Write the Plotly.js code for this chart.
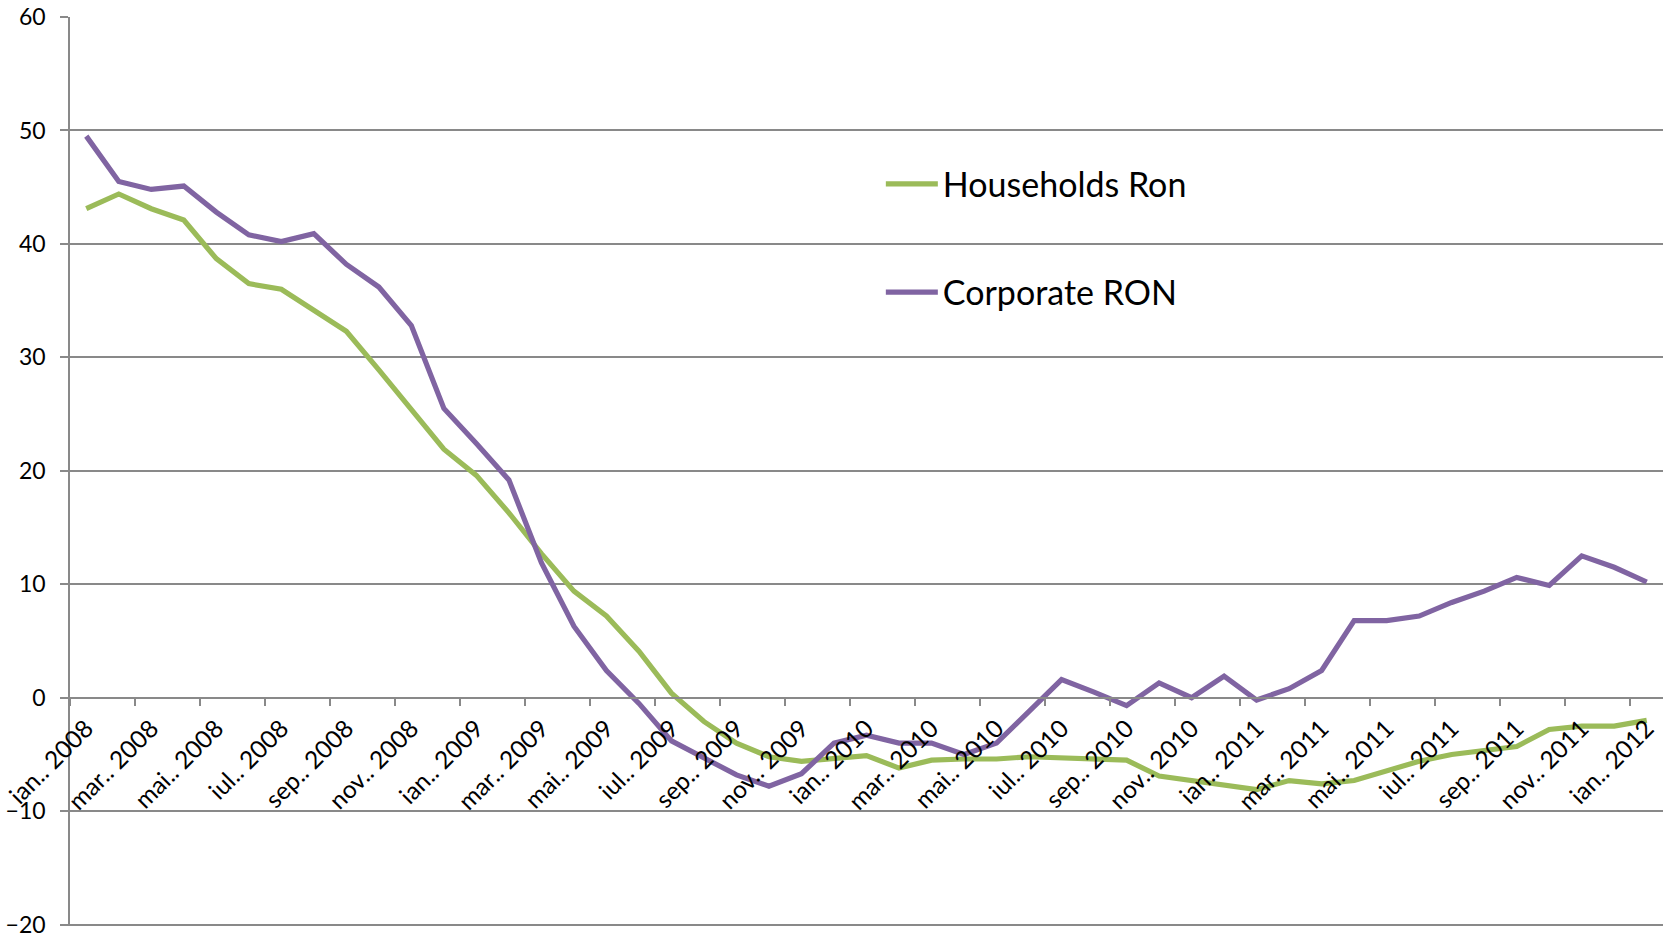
<!DOCTYPE html>
<html>
<head>
<meta charset="utf-8">
<script src="https://cdn.plot.ly/plotly-3.0.1.min.js"></script>
<style>
  html, body { margin: 0; padding: 0; background: #ffffff; }
  #chart { width: 1669px; height: 937px; }
</style>
</head>
<body>
<div id="chart"></div>
<script>
// Monthly categories, ian 2008 .. ian 2012
const monthNames = ['ian', 'feb', 'mar', 'apr', 'mai', 'iun', 'iul', 'aug', 'sep', 'oct', 'nov', 'dec'];
const startYear = 2008;
const monthCount = 49;
const months = [];
for (let k = 0; k < monthCount; k++) {
  months.push(monthNames[k % 12] + '.. ' + (startYear + Math.floor(k / 12)));
}

// Annual growth rates, %
const householdsRon = [
  43.1, 44.4, 43.1, 42.1, 38.7, 36.5, 36.0, 34.2, 32.3, 28.9,
  25.4, 21.9, 19.6, 16.3, 12.7, 9.4, 7.2, 4.1, 0.4, -2.1,
  -4.0, -5.2, -5.6, -5.3, -5.1, -6.2, -5.5, -5.4, -5.4, -5.2,
  -5.3, -5.3, -5.5, -6.9, -7.3, -7.6, -8.1, -7.3, -7.6, -7.3,
  -6.5, -5.6, -5.0, -4.6, -4.3, -2.8, -2.5, -2.5, -2.0
];
const corporateRon = [
  49.5, 45.5, 44.8, 45.1, 42.8, 40.8, 40.2, 40.9, 38.2, 36.2,
  32.8, 25.5, 22.4, 19.2, 11.9, 6.3, 2.4, -0.5, -3.8, -5.3,
  -6.8, -7.8, -6.7, -4.0, -3.3, -4.0, -4.0, -5.0, -4.0, -1.2,
  1.6, 0.5, -0.7, 1.3, 0.0, 1.9, -0.2, 0.8, 2.4, 6.8,
  6.8, 7.2, 8.4, 9.4, 10.6, 9.9, 12.5, 11.5, 10.2
];
const seriesNames = ['Households Ron', 'Corporate RON'];
const seriesColors = ['#9BBB59', '#8064A2'];
const yTicks = [-20, -10, 0, 10, 20, 30, 40, 50, 60];

const yMin = -20, yMax = 60;
// a hair of headroom below -20 so its gridline is kept
const yLow = yMin - 0.12;
const gridGray = '#898989';
// category axis sits on the zero line
const zeroFrac = (0 - yLow) / (yMax - yLow);

const traces = [
  {
    type: 'scatter', mode: 'lines', name: seriesNames[0],
    x: months, y: householdsRon,
    line: { color: seriesColors[0], width: 5.2 },
    legend: 'legend', hoverinfo: 'x+y+name'
  },
  {
    type: 'scatter', mode: 'lines', name: seriesNames[1],
    x: months, y: corporateRon,
    line: { color: seriesColors[1], width: 5.2 },
    legend: 'legend2', hoverinfo: 'x+y+name'
  }
];

const legendBase = {
  xanchor: 'left', yanchor: 'middle',
  bgcolor: 'rgba(0,0,0,0)', borderwidth: 0,
  font: { family: 'Lato, sans-serif', size: 34, color: '#000000' },
  itemwidth: 52
};

const layout = {
  width: 1669, height: 937,
  margin: { l: 70, r: 6, t: 17, b: 11, pad: 0 },
  paper_bgcolor: '#ffffff', plot_bgcolor: '#ffffff',
  font: { family: 'Lato, sans-serif', color: '#000000' },
  showlegend: true,
  legend: Object.assign({}, legendBase, { x: 0.509, y: 0.816 }),
  legend2: Object.assign({}, legendBase, { x: 0.509, y: 0.697 }),
  xaxis: {
    type: 'category',
    range: [-0.5, monthCount - 0.5],
    anchor: 'free', position: zeroFrac,
    showline: true, linecolor: gridGray, linewidth: 1.5,
    showgrid: false, zeroline: false,
    ticks: 'outside', tickson: 'boundaries',
    ticklen: 8, tickwidth: 1.5, tickcolor: gridGray,
    tickmode: 'linear', tick0: 0, dtick: 2,
    tickangle: -45,
    ticklabelstandoff: 6,
    tickfont: { family: 'Lato, sans-serif', size: 24.5, color: '#000000' }
  },
  yaxis: {
    range: [yLow, yMax],
    tickmode: 'array', tickvals: yTicks,
    showgrid: true, gridcolor: gridGray, gridwidth: 1.5,
    zeroline: true, zerolinecolor: gridGray, zerolinewidth: 1.5,
    showline: true, linecolor: gridGray, linewidth: 1.5,
    ticks: 'outside', ticklen: 8, tickwidth: 1.5, tickcolor: gridGray,
    ticklabelstandoff: 10, ticklabeloverflow: 'allow',
    tickfont: { family: 'Lato, sans-serif', size: 23, color: '#000000' }
  }
};

Plotly.newPlot('chart', traces, layout, { displayModeBar: false, responsive: false });
</script>
</body>
</html>
